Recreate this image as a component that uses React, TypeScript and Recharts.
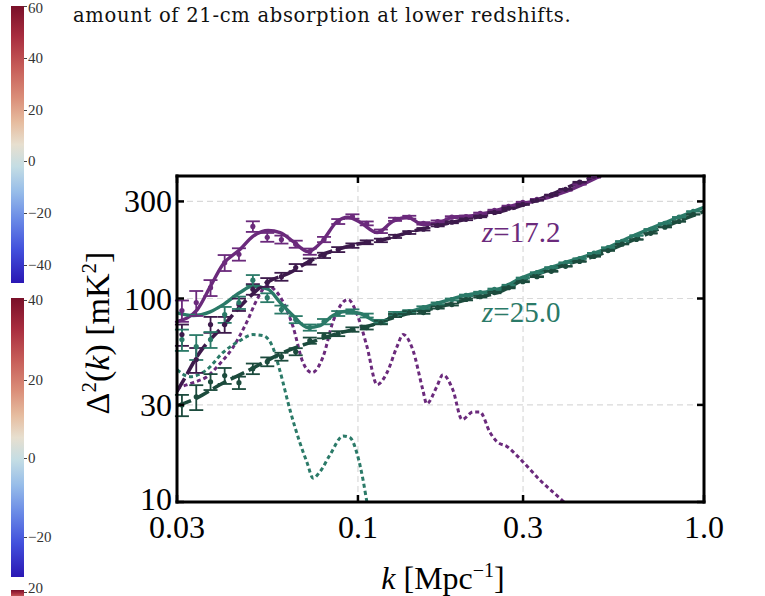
import React from "react";
import { ComposedChart, Line, Scatter, ErrorBar, XAxis, YAxis, CartesianGrid } from "recharts";

const kTicks = [0.03, 0.1, 0.3, 1.0];
const powerTicks = [10, 30, 100, 300];

// z = 17.2, full model (solid)
const z17FullK = [0.03, 0.0343, 0.0374, 0.0407, 0.0456, 0.0497, 0.055, 0.0596, 0.0649, 0.0717, 0.0788, 0.087, 0.0936, 0.1014, 0.1136, 0.126, 0.139, 0.154, 0.173, 0.188, 0.215, 0.257, 0.288, 0.321, 0.402, 0.5, 0.56];
const z17FullV = [77, 88, 114, 147, 174, 202, 216, 211, 191, 170, 191, 239, 251, 237, 211, 239, 251, 231, 237, 251, 255, 274, 290, 300, 337, 399, 440];
// z = 17.2, no-feature model (dashed)
const z17PlainK = [0.03, 0.0317, 0.0343, 0.0407, 0.0478, 0.0546, 0.0636, 0.0713, 0.0793, 0.087, 0.0993, 0.1158, 0.144, 0.181, 0.225, 0.281, 0.352, 0.438, 0.5, 0.56];
const z17PlainV = [35, 41, 52, 73, 99, 120, 134, 150, 165, 174, 185, 193, 214, 234, 253, 278, 318, 373, 408, 450];
// z = 17.2, difference (dotted)
const z17DiffK = [0.03, 0.0334, 0.0366, 0.0399, 0.0435, 0.0478, 0.0511, 0.0546, 0.0596, 0.0649, 0.0694, 0.0737, 0.0793, 0.0847, 0.0936, 0.1, 0.1062, 0.1136, 0.1213, 0.1297, 0.135, 0.144, 0.154, 0.158, 0.169, 0.176, 0.188, 0.2, 0.215, 0.225, 0.241, 0.252, 0.27, 0.29, 0.336, 0.394, 0.45];
const z17DiffV = [36.4, 38.6, 41.3, 47.8, 57.4, 77, 98.9, 115, 102, 72.8, 48.4, 43.2, 51.8, 77, 98.9, 81.5, 58, 37.7, 43.2, 58, 66.5, 56.1, 35.6, 30.4, 36.9, 42.2, 35.6, 25.4, 27.7, 27.7, 21.9, 19.8, 18.7, 16.7, 12.8, 10, 8];

// z = 25.0 curves
const z25FullK = [0.03, 0.0334, 0.0374, 0.0407, 0.0456, 0.0497, 0.055, 0.0596, 0.0649, 0.0717, 0.0777, 0.0847, 0.0918, 0.1014, 0.1158, 0.1297, 0.141, 0.165, 0.204, 0.257, 0.3, 0.392, 0.491, 0.611, 0.762, 1.0];
const z25FullV = [85, 82.5, 86, 93, 107, 115, 111, 95.5, 82.5, 72, 73.6, 82.5, 86.3, 84.4, 76.2, 84.4, 86.3, 93.4, 103.5, 112, 127, 149, 169, 200, 234, 281];
const z25PlainK = [0.03, 0.0343, 0.0399, 0.0488, 0.0546, 0.0607, 0.0727, 0.087, 0.1062, 0.1297, 0.173, 0.2066, 0.257, 0.3, 0.392, 0.491, 0.611, 0.762, 1.0];
const z25PlainV = [29.7, 32.5, 37.7, 44.7, 49.5, 54.2, 60.7, 67.2, 72.8, 81.5, 91.3, 98.9, 108, 123, 145.5, 163, 191, 224, 268];
const z25DiffK = [0.03, 0.0327, 0.0366, 0.0407, 0.0456, 0.0497, 0.0532, 0.0568, 0.0596, 0.0636, 0.068, 0.0713, 0.0742, 0.0777, 0.0831, 0.0906, 0.0949, 0.0993, 0.1035, 0.1062, 0.112];
const z25DiffV = [44.7, 41.3, 44.7, 54.2, 62.1, 66.5, 65.7, 57.4, 43.7, 28.4, 19.5, 15.6, 13.1, 14.1, 17.1, 21.1, 20.7, 17.4, 12.8, 10, 7.5];

// mock measurements (points with error bars)
const binK = [0.031, 0.0341, 0.0375, 0.0412, 0.0453, 0.0497, 0.0547, 0.0601, 0.0661, 0.0726, 0.0798, 0.0877, 0.0964, 0.106, 0.1165, 0.128, 0.1407, 0.1546, 0.17, 0.1868, 0.2053, 0.2256, 0.248, 0.2725, 0.2995, 0.329, 0.362, 0.398, 0.437, 0.481, 0.528, 0.58, 0.638, 0.701, 0.771, 0.847, 0.931];
const relErr = [0.12, 0.14, 0.09, 0.09, 0.07, 0.06, 0.05, 0.045, 0.04, 0.035, 0.03, 0.028, 0.025, 0.022, 0.02, 0.018, 0.016, 0.014, 0.012, 0.011, 0.01, 0.009, 0.008, 0.007, 0.006, 0.005, 0.005, 0.004, 0.004, 0.003, 0.003, 0.003, 0.003, 0.002, 0.002, 0.002, 0.002];
const z17FullPts = [87.3, 95.5, 113, 150, 165, 226, 200, 195, 185, 170, 195, 239, 253, 234, 214, 245, 251, 234, 239, 251, 253, 262, 271, 284, 297, 307, 322, 340, 364, 394];
const z17PlainPts = [66.5, 50.1, 74.5, 74.5, 93.4, 111, 120, 128, 142, 152, 163, 174, 182, 189, 193, 202, 211, 219, 229, 237, 245, 253, 265, 278, 290, 304, 322, 344, 373, 399];
const z25FullPts = [62.8, 58, 62.8, 83.4, 95.5, 123, 101, 88.3, 78.8, 72, 77, 84.4, 86.3, 82.5, 77, 84.4, 86.3, 90.3, 94.5, 98.9, 103.5, 107, 111, 116, 126, 134, 142, 150, 157, 167, 178, 191, 204, 219, 234, 251, 268];
const z25PlainPts = [30.0, 32.9, 39.0, 41.8, 38.6, 45.2, 48.9, 51.8, 54.8, 62.1, 65.7, 67.2, 70.4, 72, 76.2, 82.5, 85.3, 85.3, 90.3, 93.4, 98.9, 102, 107, 113, 121, 128, 136, 144, 152, 161, 172, 185, 195, 209, 224, 239, 259];

const PURPLE = "#6b2a7c";
const DARK_PURPLE = "#3d1a4c";
const TEAL = "#2b7a68";
const DARK_GREEN = "#1c4b3d";
const SERIF = "'Liberation Serif', 'DejaVu Serif', serif";

const curve = (ks: number[], vs: number[]) => ks.map((k, i) => ({ k, v: vs[i] }));
const points = (vs: number[]) => vs.map((v, i) => ({ k: binK[i], v, e: v * relErr[i] }));

const fmtK = (v: number) => (v === 1 ? "1.0" : String(v));

const BottomTick = (p: any) => (
  <g>
    <line x1={p.x} x2={p.x} y1={p.y} y2={p.y - 7} stroke="#000" strokeWidth={2.5} />
    <text x={p.x} y={p.y + 36} textAnchor="middle" fontSize={32} fontFamily={SERIF} fill="#000">
      {fmtK(p.payload.value)}
    </text>
  </g>
);
const TopTick = (p: any) => (
  <line x1={p.x} x2={p.x} y1={p.y} y2={p.y + 7} stroke="#000" strokeWidth={2.5} />
);
const LeftTick = (p: any) => (
  <g>
    <line x1={p.x} x2={p.x + 7} y1={p.y} y2={p.y} stroke="#000" strokeWidth={2.5} />
    <text x={p.x - 5} y={p.y + (p.payload.value === 10 ? 8 : 11)} textAnchor="end" fontSize={32} fontFamily={SERIF} fill="#000">
      {p.payload.value}
    </text>
  </g>
);
const RightTick = (p: any) => (
  <line x1={p.x} x2={p.x - 7} y1={p.y} y2={p.y} stroke="#000" strokeWidth={2.5} />
);

const dot = (color: string) => (p: any) => <circle cx={p.cx} cy={p.cy} r={2.6} fill={color} />;

const spine = { stroke: "#000", strokeWidth: 3, strokeLinecap: "square" as const };

const Colorbar = ({ top, height, labels }: { top: number; height: number; labels: { t: string; y: number }[] }) => (
  <>
    <div
      style={{
        position: "absolute",
        left: 11,
        top,
        width: 13,
        height,
        background:
          "linear-gradient(to bottom, #7a1029 0%, #a82d3f 11%, #c65c58 22%, #da8d78 33%, #e6bc9f 42%, #e7dfcf 50%, #c4dde4 58%, #97bde9 67%, #6a8ae6 77%, #4250dc 88%, #2a17b4 100%)",
      }}
    />
    {labels.map((l) => (
      <React.Fragment key={l.t + l.y}>
        <div style={{ position: "absolute", left: 24, top: l.y, width: 3, height: 1, background: "#444" }} />
        <div
          style={{
            position: "absolute",
            left: 28,
            top: Math.max(0, Math.min(l.y - 8, 580)),
            fontSize: 15,
            lineHeight: "16px",
            fontFamily: SERIF,
            color: "#333",
          }}
        >
          {l.t}
        </div>
      </React.Fragment>
    ))}
  </>
);

export default function App() {
  return (
    <div style={{ position: "absolute", left: 0, top: 0, width: 765, height: 596, overflow: "hidden", background: "#fff" }}>
      <Colorbar
        top={6}
        height={277}
        labels={[
          { t: "60", y: 6 },
          { t: "40", y: 58 },
          { t: "20", y: 110 },
          { t: "0", y: 161 },
          { t: "\u221220", y: 213 },
          { t: "\u221240", y: 265 },
        ]}
      />
      <Colorbar
        top={298}
        height={279}
        labels={[
          { t: "40", y: 300 },
          { t: "20", y: 380 },
          { t: "0", y: 458 },
          { t: "\u221220", y: 537 },
        ]}
      />
      <Colorbar top={590} height={30} labels={[{ t: "20", y: 592 }]} />

      <div
        style={{
          position: "absolute",
          left: 73,
          top: 4,
          fontSize: 19.5,
          letterSpacing: 0.7,
          fontFamily: "'DejaVu Serif', serif",
          whiteSpace: "nowrap",
          color: "#111",
        }}
      >
        amount of 21-cm absorption at lower redshifts.
      </div>

      <div style={{ position: "absolute", left: 0, top: 0 }}>
        <ComposedChart width={765} height={596} margin={{ top: 171, right: 56, bottom: 34, left: 97 }}>
          <CartesianGrid stroke="#d9d9d9" strokeDasharray="6 4" strokeWidth={1.2} />

          <Line data={curve(z17DiffK, z17DiffV)} dataKey="v" type="monotone" stroke={PURPLE} strokeWidth={3} strokeDasharray="4 3" dot={false} isAnimationActive={false} />
          <Line data={curve(z25DiffK, z25DiffV)} dataKey="v" type="monotone" stroke={TEAL} strokeWidth={3} strokeDasharray="4 3" dot={false} isAnimationActive={false} />
          <Line data={curve(z17FullK, z17FullV)} dataKey="v" type="monotone" stroke={PURPLE} strokeWidth={3.4} dot={false} isAnimationActive={false} />
          <Line data={curve(z25FullK, z25FullV)} dataKey="v" type="monotone" stroke={TEAL} strokeWidth={3.4} dot={false} isAnimationActive={false} />
          <Line data={curve(z17PlainK, z17PlainV)} dataKey="v" type="monotone" stroke={DARK_PURPLE} strokeWidth={3.6} strokeDasharray="15 5" dot={false} isAnimationActive={false} />
          <Line data={curve(z25PlainK, z25PlainV)} dataKey="v" type="monotone" stroke={DARK_GREEN} strokeWidth={3.6} strokeDasharray="15 5" dot={false} isAnimationActive={false} />

          <Scatter data={points(z17FullPts)} dataKey="v" shape={dot(PURPLE)} isAnimationActive={false}>
            <ErrorBar dataKey="e" direction="y" width={7} stroke={PURPLE} strokeWidth={1.8} />
          </Scatter>
          <Scatter data={points(z17PlainPts)} dataKey="v" shape={dot(DARK_PURPLE)} isAnimationActive={false}>
            <ErrorBar dataKey="e" direction="y" width={7} stroke={DARK_PURPLE} strokeWidth={1.8} />
          </Scatter>
          <Scatter data={points(z25FullPts)} dataKey="v" shape={dot(TEAL)} isAnimationActive={false}>
            <ErrorBar dataKey="e" direction="y" width={7} stroke={TEAL} strokeWidth={1.8} />
          </Scatter>
          <Scatter data={points(z25PlainPts)} dataKey="v" shape={dot(DARK_GREEN)} isAnimationActive={false}>
            <ErrorBar dataKey="e" direction="y" width={7} stroke={DARK_GREEN} strokeWidth={1.8} />
          </Scatter>

          <XAxis
            dataKey="k"
            type="number"
            scale="log"
            domain={[0.03, 1]}
            ticks={kTicks}
            allowDataOverflow
            height={60}
            tickSize={0}
            tickMargin={0}
            tickLine={false}
            axisLine={spine}
            tick={BottomTick}
            interval={0}
          />
          <XAxis
            xAxisId="top"
            orientation="top"
            dataKey="k"
            type="number"
            scale="log"
            domain={[0.03, 1]}
            ticks={kTicks}
            allowDataOverflow
            height={5}
            tickSize={0}
            tickMargin={0}
            tickLine={false}
            axisLine={spine}
            tick={TopTick}
            interval={0}
          />
          <YAxis
            dataKey="v"
            type="number"
            scale="log"
            domain={[10, 400]}
            ticks={powerTicks}
            allowDataOverflow
            width={80}
            tickSize={0}
            tickMargin={0}
            tickLine={false}
            axisLine={spine}
            tick={LeftTick}
            interval={0}
          />
          <YAxis
            yAxisId="right"
            orientation="right"
            dataKey="v"
            type="number"
            scale="log"
            domain={[10, 400]}
            ticks={powerTicks}
            allowDataOverflow
            width={5}
            tickSize={0}
            tickMargin={0}
            tickLine={false}
            axisLine={spine}
            tick={RightTick}
            interval={0}
          />
        </ComposedChart>
      </div>

      <div style={{ position: "absolute", left: 482, top: 216, fontSize: 29, fontFamily: SERIF, color: PURPLE, whiteSpace: "nowrap" }}>
        <i>z</i>=17.2
      </div>
      <div style={{ position: "absolute", left: 482, top: 296, fontSize: 29, fontFamily: SERIF, color: TEAL, whiteSpace: "nowrap" }}>
        <i>z</i>=25.0
      </div>

      <div
        style={{
          position: "absolute",
          left: 97,
          top: 333,
          transform: "translate(-50%, -50%) rotate(-90deg)",
          fontSize: 34,
          fontFamily: SERIF,
          whiteSpace: "nowrap",
          color: "#000",
        }}
      >
        {"\u0394"}
        <sup style={{ fontSize: 21 }}>2</sup>(<i>k</i>) [mK<sup style={{ fontSize: 21 }}>2</sup>]
      </div>
      <div
        style={{
          position: "absolute",
          left: 443,
          top: 578,
          transform: "translate(-50%, -50%)",
          fontSize: 32,
          fontFamily: SERIF,
          whiteSpace: "nowrap",
          color: "#000",
        }}
      >
        <i>k</i> [Mpc<sup style={{ fontSize: 20 }}>{"\u22121"}</sup>]
      </div>
    </div>
  );
}
